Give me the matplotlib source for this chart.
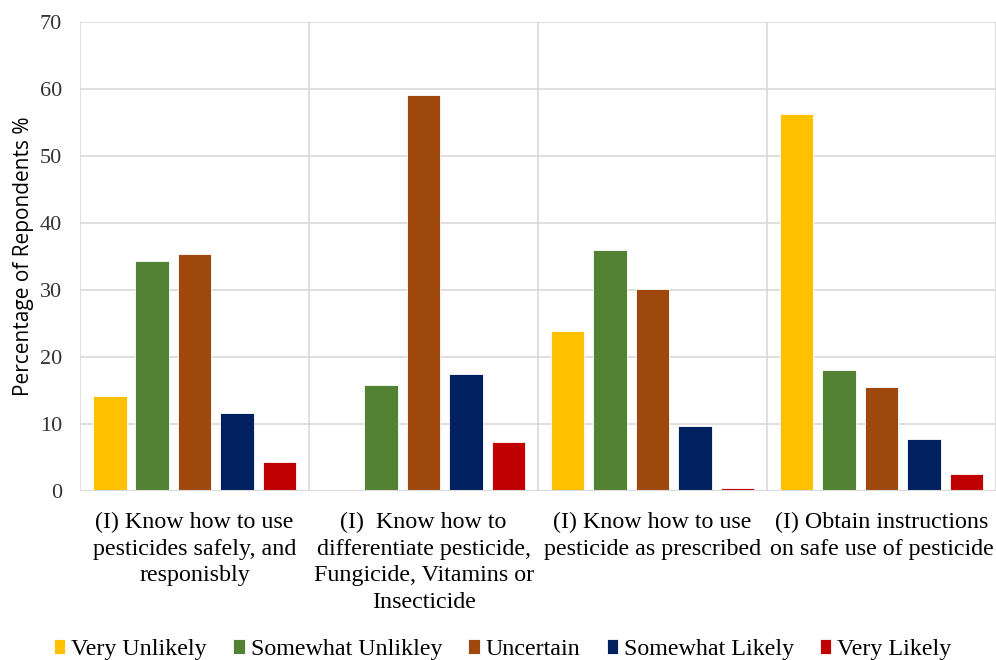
import numpy as np
import matplotlib.pyplot as plt

categories = ['(I) Know how to use\npesticides safely, and\nresponisbly',
              '(I)  Know how to\ndifferentiate pesticide,\nFungicide, Vitamins or\nInsecticide',
              '(I) Know how to use\npesticide as prescribed',
              '(I) Obtain instructions\non safe use of pesticide']
series = ['Very Unlikely', 'Somewhat Unlikley', 'Uncertain', 'Somewhat Likely', 'Very Likely']
very_unlikely = [14.2, 0.0, 23.9, 56.3]
somewhat_unlikely = [34.4, 15.9, 36.0, 18.1]
uncertain = [35.4, 59.1, 30.1, 15.5]
somewhat_likely = [11.6, 17.5, 9.7, 7.7]
very_likely = [4.4, 7.3, 0.5, 2.5]
values = [very_unlikely, somewhat_unlikely, uncertain, somewhat_likely, very_likely]
colors = ['#FFC000', '#548235', '#9E480E', '#002060', '#C00000']

fig = plt.figure(figsize=(9.96, 6.6), dpi=100)
ax = fig.add_axes([0.0805, 0.256, 0.9195, 0.7105])

x = np.arange(len(categories))
pitch = 0.1855
width = 0.147
for j, (name, vals) in enumerate(zip(series, values)):
    ax.bar(x + (j - 2) * pitch, vals, width, color=colors[j], label=name,
           edgecolor='white', linewidth=0.6, zorder=3)

ax.set_xlim(-0.5, len(categories) - 0.5)
ax.set_ylim(0, 70)
ax.set_yticks(range(0, 71, 10))
ax.yaxis.grid(True, color='#d9d9d9', linewidth=1.2, zorder=0)
for b in np.arange(-0.5, len(categories), 1.0):
    ax.axvline(b, color='#d9d9d9', linewidth=1.2, zorder=0)
for s in ax.spines.values():
    s.set_visible(False)
ax.axhline(0, color='#d9d9d9', linewidth=1.5, zorder=4)

ax.set_xticks(x)
ax.set_xticklabels(categories, family='Liberation Serif', fontsize=17.3, linespacing=1.35)
ax.tick_params(axis='x', length=0, pad=15)
ax.tick_params(axis='y', length=0, pad=13, labelsize=16, labelcolor='#333333')
for t in ax.get_yticklabels():
    t.set_family('Liberation Serif')
ax.set_ylabel('Percentage of Repondents %', family='Open Sans', fontsize=15, labelpad=4)

leg = fig.legend(loc='lower center', bbox_to_anchor=(0.505, -0.033), ncol=5, frameon=False,
                 prop={'family': 'Liberation Serif', 'size': 17.3},
                 handlelength=0.46, handleheight=0.55, handletextpad=0.25, columnspacing=1.1)

fig.savefig('out.png', dpi=100)
